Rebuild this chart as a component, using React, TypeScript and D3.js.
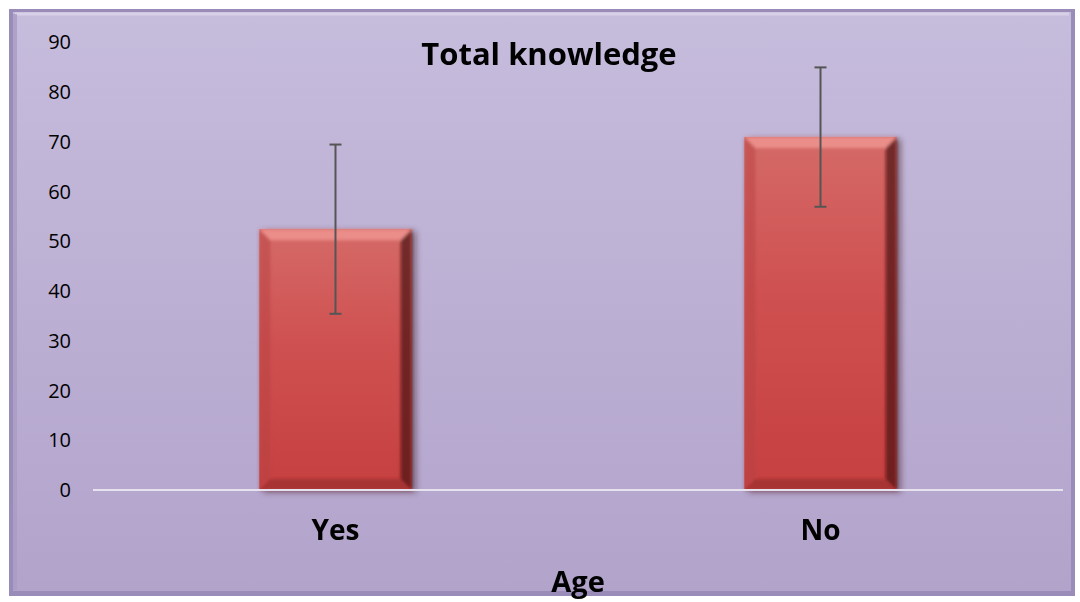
import React, { useEffect, useRef } from 'react';
import * as d3 from 'd3';

// values
const categories = ['Yes', 'No'];
const means = [52.4, 70.9];
const errors = [17.0, 14.0];
const yTicks = [0, 10, 20, 30, 40, 50, 60, 70, 80, 90];

const W = 1080;
const H = 602;
const FONT = '"Open Sans", Lato, sans-serif';

export default function App() {
  const ref = useRef<SVGSVGElement | null>(null);

  useEffect(() => {
    const svg = d3.select(ref.current);
    svg.selectAll('*').remove();

    const box = { x: 9, y: 9, w: 1066, h: 587 };
    const plot = { left: 93, right: 1063, top: 42, bottom: 490 };

    const defs = svg.append('defs');
    const bg = defs.append('linearGradient').attr('id', 'bg').attr('x1', 0).attr('y1', 0).attr('x2', 0).attr('y2', 1);
    bg.append('stop').attr('offset', '0%').attr('stop-color', '#c6bcdc');
    bg.append('stop').attr('offset', '100%').attr('stop-color', '#b2a3cb');

    const barG = defs.append('linearGradient').attr('id', 'bar').attr('x1', 0).attr('y1', 0).attr('x2', 0).attr('y2', 1);
    barG.append('stop').attr('offset', '0%').attr('stop-color', '#d46a67');
    barG.append('stop').attr('offset', '45%').attr('stop-color', '#cf5050');
    barG.append('stop').attr('offset', '100%').attr('stop-color', '#c64040');

    const blur = defs.append('filter').attr('id', 'sh').attr('x', '-10%').attr('y', '-10%').attr('width', '130%').attr('height', '130%');
    blur.append('feGaussianBlur').attr('stdDeviation', 3);
    const soft = defs.append('filter').attr('id', 'soft').attr('x', '-10%').attr('y', '-10%').attr('width', '120%').attr('height', '120%');
    soft.append('feGaussianBlur').attr('stdDeviation', 1.5);

    // chart box with bevel
    svg.append('rect').attr('width', W).attr('height', H).attr('fill', '#ffffff');
    svg.append('rect').attr('x', box.x).attr('y', box.y).attr('width', box.w).attr('height', box.h).attr('fill', '#9a8cb8');
    svg.append('rect').attr('x', box.x + 4).attr('y', box.y + 3).attr('width', box.w - 8).attr('height', box.h - 8).attr('fill', 'url(#bg)');
    svg.append('line').attr('x1', box.x + 6).attr('x2', box.x + box.w - 6).attr('y1', box.y + 5).attr('y2', box.y + 5)
      .attr('stroke', '#ddd6ec').attr('stroke-width', 3).attr('opacity', 0.8);
    svg.append('line').attr('x1', box.x + 6).attr('x2', box.x + 6).attr('y1', box.y + 5).attr('y2', box.y + box.h - 6)
      .attr('stroke', '#a99cc6').attr('stroke-width', 4).attr('opacity', 0.8);

    const x = d3.scaleBand<string>().domain(categories).range([plot.left, plot.right])
      .paddingInner(0.686).paddingOuter(0.343);
    const y = d3.scaleLinear().domain([0, 90]).range([plot.bottom, plot.top]);

    // y tick labels
    svg.append('g').selectAll('text').data(yTicks).join('text')
      .attr('x', 71).attr('y', d => y(d)).attr('dy', '0.36em')
      .attr('text-anchor', 'end').attr('font-family', FONT)
      .attr('font-size', 20).attr('fill', '#000').text(d => d);

    // bars
    const bw = x.bandwidth();
    const bars = svg.append('g').selectAll('g').data(categories).join('g');
    bars.append('rect')
      .attr('x', d => (x(d) as number) + 4).attr('y', (d, i) => y(means[i]) + 2)
      .attr('width', bw).attr('height', (d, i) => y(0) - y(means[i]))
      .attr('fill', '#3a1010').attr('opacity', 0.5).attr('filter', 'url(#sh)');
    bars.append('rect')
      .attr('x', d => x(d) as number).attr('y', (d, i) => y(means[i]))
      .attr('width', bw).attr('height', (d, i) => y(0) - y(means[i]))
      .attr('fill', 'url(#bar)');
    const bev = 11;
    const bevels = bars.append('g').attr('filter', 'url(#soft)');
    // top bevel (light)
    bevels.append('path').attr('d', (d, i) => {
      const x0 = x(d) as number, x1 = x0 + bw, t = y(means[i]);
      return `M${x0},${t}L${x1},${t}L${x1 - bev},${t + bev}L${x0 + bev},${t + bev}Z`;
    }).attr('fill', '#f39a96').attr('opacity', 0.75);
    // right bevel (dark)
    bevels.append('path').attr('d', (d, i) => {
      const x0 = x(d) as number, x1 = x0 + bw, t = y(means[i]), b = y(0);
      return `M${x1},${t}L${x1},${b}L${x1 - bev},${b - bev}L${x1 - bev},${t + bev}Z`;
    }).attr('fill', '#4a0e0e').attr('opacity', 0.7);
    // left bevel
    bevels.append('path').attr('d', (d, i) => {
      const x0 = x(d) as number, t = y(means[i]), b = y(0);
      return `M${x0},${t}L${x0 + bev},${t + bev}L${x0 + bev},${b - bev}L${x0},${b}Z`;
    }).attr('fill', '#b84442').attr('opacity', 0.5);
    // bottom bevel
    bevels.append('path').attr('d', (d, i) => {
      const x0 = x(d) as number, x1 = x0 + bw, b = y(0);
      return `M${x0},${b}L${x0 + bev},${b - bev}L${x1 - bev},${b - bev}L${x1},${b}Z`;
    }).attr('fill', '#8e2a2a').attr('opacity', 0.55);

    // zero line
    svg.append('line').attr('x1', plot.left).attr('x2', plot.right).attr('y1', y(0)).attr('y2', y(0))
      .attr('stroke', '#e6e2ee').attr('stroke-width', 2);

    // error bars
    const eb = svg.append('g').attr('stroke', '#555555').attr('stroke-width', 2);
    categories.forEach((c, i) => {
      const cx = (x(c) as number) + bw / 2;
      const hi = y(means[i] + errors[i]);
      const lo = y(means[i] - errors[i]);
      eb.append('line').attr('x1', cx).attr('x2', cx).attr('y1', hi).attr('y2', lo);
      eb.append('line').attr('x1', cx - 6).attr('x2', cx + 6).attr('y1', hi).attr('y2', hi);
      eb.append('line').attr('x1', cx - 6).attr('x2', cx + 6).attr('y1', lo).attr('y2', lo);
    });

    // category labels
    svg.append('g').selectAll('text').data(categories).join('text')
      .attr('x', d => (x(d) as number) + bw / 2).attr('y', 540)
      .attr('text-anchor', 'middle').attr('font-family', FONT)
      .attr('font-weight', 'bold').attr('font-size', 28).attr('fill', '#000').text(d => d);

    svg.append('text').attr('x', 578).attr('y', 592).attr('text-anchor', 'middle')
      .attr('font-family', FONT).attr('font-weight', 'bold')
      .attr('font-size', 29).attr('fill', '#000').text('Age');

    svg.append('text').attr('x', 549).attr('y', 65).attr('text-anchor', 'middle')
      .attr('font-family', FONT).attr('font-weight', 'bold')
      .attr('font-size', 31).attr('fill', '#000').text('Total knowledge');
  }, []);

  return (
    <div style={{ position: 'absolute', left: 0, top: 0 }}>
      <svg ref={ref} width={W} height={H} style={{ display: 'block' }} />
    </div>
  );
}
